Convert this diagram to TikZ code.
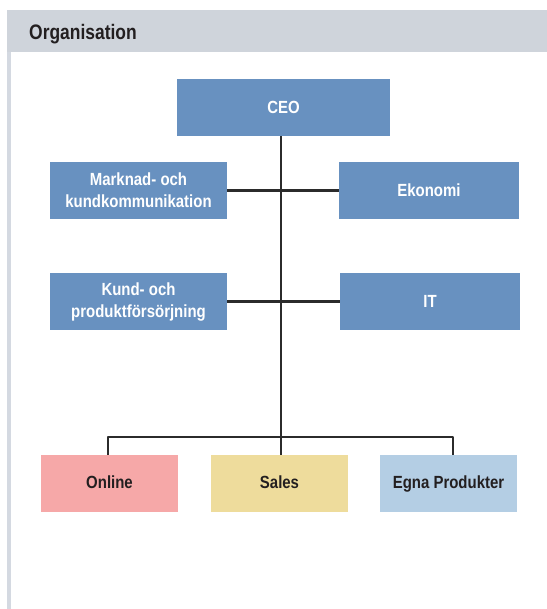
\documentclass[tikz,border=0pt]{standalone}
\usepackage{fontspec}
\newfontfamily\cond{Liberation Sans Bold}[FakeStretch=0.85]
\newfontfamily\condh{Liberation Sans Bold}[FakeStretch=0.83]
\definecolor{boxblue}{HTML}{6891C0}
\definecolor{boxpink}{HTML}{F6A8A8}
\definecolor{boxyellow}{HTML}{EEDC9C}
\definecolor{boxlight}{HTML}{B4CEE4}
\definecolor{linec}{HTML}{2B2B2B}
\definecolor{band}{HTML}{CFD4DB}
\definecolor{border}{HTML}{D4D9E1}
\definecolor{darktext}{HTML}{231F20}
\begin{document}
\begin{tikzpicture}[x=1bp,y=-1bp,
  orgbox/.style={minimum height=57bp, inner sep=0pt, align=center,
    font=\cond\fontsize{17.6bp}{22bp}\selectfont},
  bluebox/.style={orgbox, fill=boxblue, text=white},
  colbox/.style={orgbox, text=darktext, minimum width=137bp, text depth=2bp},
  conn/.style={draw=linec, line width=2.6bp, line join=round}]
\useasboundingbox (0,0) rectangle (547,609);
\fill[band] (7,10) rectangle (547,52);
\fill[border] (7,52) rectangle (10.5,609);
\node[anchor=base west, inner sep=0pt, text=darktext,
  font=\condh\fontsize{21bp}{22bp}\selectfont] (title) at (29,40) {Organisation};

\node[bluebox, minimum width=213bp] (ceo) at (283.5,107.5) {CEO};
\node[bluebox, minimum width=177bp] (mark) at (138.5,190.5) {Marknad- och\\kundkommunikation};
\node[bluebox, minimum width=180bp] (ek) at (429,190.5) {Ekonomi};
\node[bluebox, minimum width=177bp] (kund) at (138.5,301.5) {Kund- och\\produktförsörjning};
\node[bluebox, minimum width=180bp] (it) at (430,301.5) {IT};
\node[colbox, fill=boxpink] (online) at (109.5,483.5) {Online};
\node[colbox, fill=boxyellow] (sales) at (279.5,483.5) {Sales};
\node[colbox, fill=boxlight] (egna) at (448.5,483.5) {Egna Produkter};

\coordinate (bus) at (281,437);
\coordinate (busL) at (108,437);
\coordinate (busR) at (453,437);

\draw[conn] (ceo.south -| bus) -- (bus |- sales.north);
\draw[conn] (mark.east) -- (ek.west);
\draw[conn] (kund.east) -- (it.west);
\draw[conn] (busL |- online.north) -- (busL) -- (busR) -- (busR |- egna.north);
\end{tikzpicture}
\end{document}
